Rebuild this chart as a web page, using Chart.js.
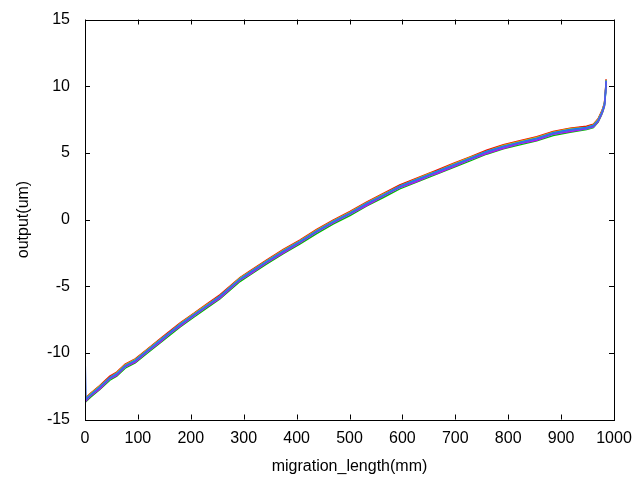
<!DOCTYPE html>
<html>
<head>
<meta charset="utf-8">
<script src="https://cdn.jsdelivr.net/npm/chart.js@4/dist/chart.umd.min.js"></script>
<style>
html,body{margin:0;padding:0;background:#fff;}
#c{display:block;}
</style>
</head>
<body>
<canvas id="c" width="640" height="480"></canvas>
<script>
// migration_length (mm) sample positions
const xs = [0,2,10,28,47,60,76,95,117,142,161,180,205,230,255,293,312,343,375,406,438,469,501,532,564,595,627,652,665,696,728,759,791,822,854,885,917,948,961,970,976,979,982,984,985];

// output (um) per run
const runRed     = [-13.15,-13.35,-13.05,-12.45,-11.75,-11.45,-10.85,-10.45,-9.75,-8.95,-8.35,-7.75,-7.05,-6.35,-5.65,-4.35,-3.85,-3.05,-2.25,-1.55,-0.75,-0.05,0.6,1.3,1.95,2.6,3.1,3.5,3.7,4.2,4.7,5.2,5.6,5.9,6.2,6.6,6.85,7.0,7.15,7.55,8.05,8.35,8.75,9.7,10.5];
const runGreen   = [-13.45,-13.65,-13.35,-12.75,-12.05,-11.75,-11.15,-10.75,-10.05,-9.25,-8.65,-8.05,-7.35,-6.65,-5.95,-4.65,-4.15,-3.35,-2.55,-1.85,-1.05,-0.35,0.3,1.0,1.65,2.3,2.8,3.2,3.4,3.9,4.4,4.9,5.3,5.6,5.9,6.3,6.55,6.75,6.9,7.3,7.8,8.1,8.5,9.4,10.3];
const runBlue    = [-13.25,-13.45,-13.15,-12.55,-11.85,-11.55,-10.95,-10.55,-9.85,-9.05,-8.45,-7.85,-7.15,-6.45,-5.75,-4.45,-3.95,-3.15,-2.35,-1.65,-0.85,-0.15,0.5,1.2,1.85,2.5,3.0,3.4,3.6,4.1,4.6,5.1,5.5,5.8,6.1,6.5,6.75,6.9,7.05,7.45,7.95,8.25,8.65,9.6,10.4];
const runMagenta = [-13.35,-13.6,-13.25,-12.7,-11.95,-11.7,-11.05,-10.7,-9.95,-9.2,-8.55,-8.0,-7.25,-6.55,-5.9,-4.55,-4.1,-3.25,-2.5,-1.75,-0.95,-0.25,0.4,1.05,1.75,2.4,2.85,3.3,3.45,3.95,4.5,4.95,5.35,5.7,5.95,6.4,6.6,6.8,6.95,7.35,7.85,8.15,8.55,9.5,10.35];
const runCyan    = [-13.3,-13.55,-13.2,-12.65,-11.95,-11.6,-11.05,-10.6,-9.95,-9.1,-8.55,-7.9,-7.25,-6.5,-5.85,-4.5,-4.05,-3.2,-2.45,-1.7,-0.95,-0.2,0.4,1.1,1.8,2.4,2.9,3.3,3.5,4.0,4.5,5.0,5.4,5.7,6.0,6.4,6.65,6.8,6.95,7.4,7.9,8.2,8.6,9.5,10.4];
const runOrange  = [-13.2,-13.4,-13.1,-12.5,-11.8,-11.5,-10.9,-10.5,-9.8,-9.0,-8.4,-7.8,-7.1,-6.4,-5.7,-4.4,-3.9,-3.1,-2.3,-1.6,-0.8,-0.1,0.55,1.25,1.9,2.55,3.05,3.45,3.65,4.15,4.65,5.15,5.55,5.85,6.15,6.55,6.8,6.95,7.1,7.5,8.0,8.3,8.7,9.6,10.5];
const runYellow  = [-13.2,-13.4,-13.1,-12.5,-11.85,-11.5,-10.9,-10.5,-9.8,-9.0,-8.45,-7.8,-7.1,-6.4,-5.75,-4.4,-3.9,-3.1,-2.3,-1.6,-0.8,-0.1,0.55,1.25,1.9,2.5,3.05,3.45,3.6,4.15,4.65,5.1,5.55,5.85,6.15,6.55,6.8,6.9,7.1,7.5,8.0,8.3,8.7,9.6,10.45];
const runRoyal   = [-10.0,-13.5,-13.2,-12.6,-11.9,-11.6,-11.0,-10.6,-9.9,-9.1,-8.5,-7.9,-7.2,-6.5,-5.8,-4.5,-4.0,-3.2,-2.4,-1.7,-0.9,-0.2,0.45,1.15,1.8,2.45,2.95,3.35,3.55,4.05,4.55,5.05,5.45,5.75,6.05,6.45,6.7,6.85,7.0,7.4,7.9,8.2,8.6,9.5,10.4];

const xTicks = [0,100,200,300,400,500,600,700,800,900,1000];
const yTicks = [-15,-10,-5,0,5,10,15];

const runs = [
  {data: runRed, color: '#ff0000', order: 7},
  {data: runGreen, color: '#00c000', order: 6},
  {data: runBlue, color: '#0080ff', order: 3},
  {data: runMagenta, color: '#c000ff', order: 1},
  {data: runCyan, color: '#00eeee', order: 2},
  {data: runOrange, color: '#c04000', order: 5},
  {data: runYellow, color: '#c8c800', order: 4},
  {data: runRoyal, color: '#4169e1', order: 0}
];

const FONT = {family: '"Liberation Sans", Arial, sans-serif', size: 16};

const frame = {
  id: 'frame',
  afterDatasetsDraw(chart) {
    const {ctx, chartArea: a, scales: {x, y}} = chart;
    const tl = 5;
    ctx.save();
    ctx.strokeStyle = '#000';
    ctx.lineWidth = 1;
    ctx.beginPath();
    xTicks.forEach(v => {
      const px = Math.round(x.getPixelForValue(v)) + 0.5;
      ctx.moveTo(px, a.bottom); ctx.lineTo(px, a.bottom - tl);
      ctx.moveTo(px, a.top); ctx.lineTo(px, a.top + tl);
    });
    yTicks.forEach(v => {
      const py = Math.round(y.getPixelForValue(v)) + 0.5;
      ctx.moveTo(a.left, py); ctx.lineTo(a.left + tl, py);
      ctx.moveTo(a.right, py); ctx.lineTo(a.right - tl, py);
    });
    ctx.stroke();
    ctx.strokeRect(Math.round(a.left) + 0.5, Math.round(a.top) + 0.5,
                   Math.round(a.right - a.left), Math.round(a.bottom - a.top));
    ctx.restore();
  }
};

new Chart(document.getElementById('c'), {
  type: 'line',
  data: {
    labels: xs,
    datasets: runs.map(r => ({
      data: xs.map((xv, i) => ({x: xv, y: r.data[i]})),
      borderColor: r.color,
      backgroundColor: r.color,
      borderWidth: 1.5,
      pointRadius: 0,
      tension: 0,
      fill: false,
      order: r.order
    }))
  },
  options: {
    responsive: false,
    animation: false,
    events: [],
    layout: {padding: {left: 0, right: 26, top: 19.5, bottom: 0}},
    plugins: {legend: {display: false}, tooltip: {enabled: false}},
    scales: {
      x: {
        type: 'linear', min: 0, max: 1000,
        afterBuildTicks(s) { s.ticks = xTicks.map(v => ({value: v})); },
        afterFit(s) { s.height = 60.5; s.paddingLeft = 0; s.paddingRight = 0; },
        grid: {display: false, drawTicks: false},
        border: {display: false},
        ticks: {color: '#000', font: FONT, padding: 9, maxRotation: 0, autoSkip: false,
                callback: v => String(v)},
        title: {display: true, text: 'migration_length(mm)', color: '#000', font: FONT, padding: {top: 0, bottom: 4}}
      },
      y: {
        type: 'linear', min: -15, max: 15,
        afterBuildTicks(s) { s.ticks = yTicks.map(v => ({value: v})); },
        afterFit(s) { s.width = 85; s.paddingTop = 0; s.paddingBottom = 0; },
        grid: {display: false, drawTicks: false},
        border: {display: false},
        ticks: {color: '#000', font: FONT, padding: 15, autoSkip: false,
                callback: v => String(v)},
        title: {display: true, text: 'output(um)', color: '#000', font: FONT, padding: {top: 14.4, bottom: 0}}
      }
    }
  },
  plugins: [frame]
});
</script>
</body>
</html>
